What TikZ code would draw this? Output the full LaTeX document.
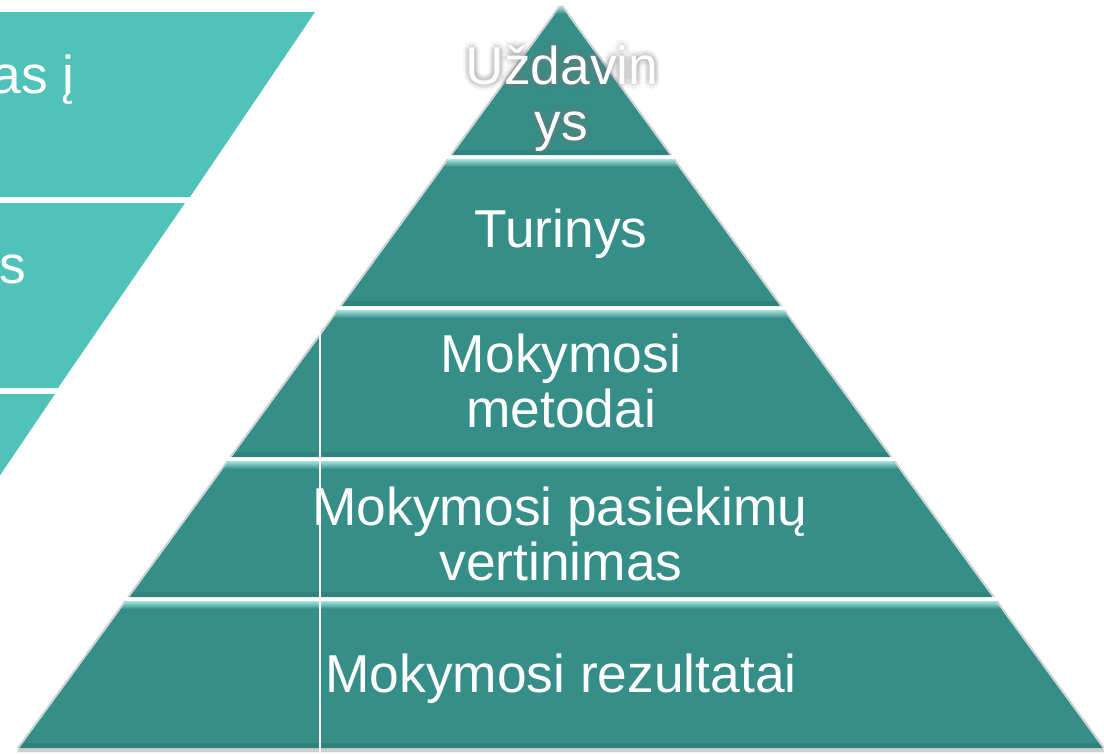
\documentclass[tikz,border=0pt]{standalone}
\usepackage{fontspec}
\setmainfont{Liberation Sans}
\definecolor{pteal}{HTML}{358E87}
\definecolor{lteal}{HTML}{4FC2B9}
\definecolor{hiteal}{HTML}{A6E4DE}
\definecolor{edgegray}{HTML}{CFCFCF}
\tikzset{
  lbl/.style={text=white, anchor=base, inner sep=0pt, font=\fontsize{40}{42}\selectfont},
  glow/.style={text=gray, opacity=0.06, anchor=base, inner sep=0pt, font=\fontsize{40}{42}\selectfont},
  leftband/.style={fill=lteal, draw=none},
  layer/.style={fill=pteal, draw=none},
}
\begin{document}
\begin{tikzpicture}[x=0.75pt,y=-0.75pt]
\useasboundingbox (0,0) rectangle (1104,754);
\clip (0,0) rectangle (1104,754);
% left bands
\fill[leftband] (-200,12) -- (315,12) -- (190,197) -- (-200,197) -- cycle;
\fill[leftband] (-200,203) -- (185,203) -- (58,388) -- (-200,388) -- cycle;
\fill[leftband] (-200,394) -- (55,394) -- (-70,579) -- (-200,579) -- cycle;
\node[lbl, anchor=base east] (t1) at (75,93) {as į};
\node[lbl, anchor=base east] (t2) at (26,283) {s};
% shadow under pyramid
\fill[edgegray] (19,748) -- (1103,748) -- (1104,752) -- (17,752) -- cycle;
% pyramid layers
\foreach \t/\b in {6/155,159/306,310/457,461/597,601/748}{
  \pgfmathsetmacro\dt{0.73*(\t-6)}
  \pgfmathsetmacro\db{0.73*(\b-6)}
  \draw[edgegray, line width=1.2pt] ({561-\db-1.5},\b) -- ({561-\dt-1.5},\t);
  \draw[edgegray, line width=1.2pt] ({561+\db+1.5},\b) -- ({561+\dt+1.5},\t);
  \fill[layer] ({561-\db},\b) -- ({561-\dt},\t) -- ({561+\dt},\t) -- ({561+\db},\b) -- cycle;
  \begin{scope}
    \clip ({561-\db},\b) -- ({561-\dt},\t) -- ({561+\dt},\t) -- ({561+\db},\b) -- cycle;
    \shade[top color=hiteal, bottom color=pteal] (0,\t) rectangle (1104,{\t+8});
    \fill[black, opacity=0.08] (0,{\b-5}) rectangle (1104,\b);
  \end{scope}
}
% vertical white line
\coordinate (vtop) at (320,333);
\coordinate (vbot) at (320,754);
\draw[white, line width=1.3pt] (vtop) -- (vbot);
% soft glow for top text
\foreach \r in {2,4,6}{
  \foreach \a in {0,45,...,315}{
    \node[glow] at ({562+\r*cos(\a)},{84+\r*sin(\a)}) {Uždavin};
    \node[glow] at ({561+\r*cos(\a)},{140+\r*sin(\a)}) {ys};
  }
}
\node[lbl] (l1a) at (562,84) {Uždavin};
\node[lbl] (l1b) at (561,140) {ys};
\node[lbl] (l2) at (561,247) {Turinys};
\node[lbl] (l3a) at (561,372) {Mokymosi};
\node[lbl] (l3b) at (561,427) {metodai};
\node[lbl] (l4a) at (560,525) {Mokymosi pasiekimų};
\node[lbl] (l4b) at (561,580) {vertinimas};
\node[lbl] (l5) at (561,692) {Mokymosi rezultatai};
\end{tikzpicture}
\end{document}
